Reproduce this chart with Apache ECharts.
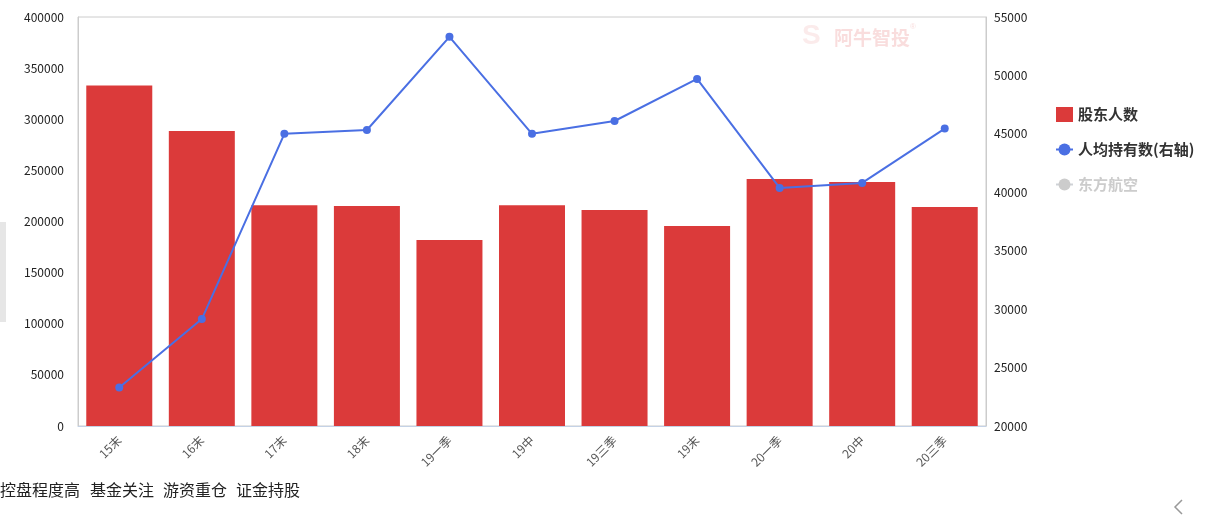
<!DOCTYPE html>
<html><head><meta charset="utf-8">
<script src="https://cdn.jsdelivr.net/npm/echarts@6/dist/echarts.min.js"></script>
<style>html,body{margin:0;padding:0;background:#fff;}#c{width:1215px;height:523px;}</style>
</head><body><div id="c"></div>
<script>
const categories = ['15末','16末','17末','18末','19一季','19中','19三季','19末','20一季','20中','20三季'];
const holders = [333000, 288500, 216000, 215200, 181900, 216000, 211200, 195600, 241600, 238600, 214200];
const perCapita = [23300, 29150, 45000, 45330, 53300, 45000, 46100, 49700, 40370, 40800, 45450];
const leftTicks = {min: 0, max: 400000, interval: 50000};
const rightTicks = {min: 20000, max: 55000, interval: 5000};
const tags = ['控盘程度高', '基金关注', '游资重仓', '证金持股'];

const chart = echarts.init(document.getElementById('c'));
const font = '"Noto Sans CJK SC", "Noto Sans", sans-serif';
const tagX = [0, 90, 163, 236];
chart.setOption({
  animation: false,
  textStyle: {fontFamily: font},
  grid: {left: 78, right: 229, top: 17, bottom: 97, show: true, borderColor: '#ccc', borderWidth: 1},
  legend: {
    orient: 'vertical', left: 1055, top: 107, itemGap: 20, itemWidth: 17, itemHeight: 15, itemTextGap: 3, padding: 0,
    textStyle: {fontSize: 15, fontWeight: 'bold', color: '#333', fontFamily: font},
    inactiveColor: '#ccc',
    data: [{name: '股东人数', icon: 'rect'}, {name: '人均持有数(右轴)'}, {name: '东方航空'}],
    selected: {'东方航空': false}
  },
  xAxis: {
    type: 'category', data: categories,
    axisLine: {lineStyle: {color: '#c4d2e6'}},
    axisTick: {show: false},
    axisLabel: {rotate: 45, color: '#555', fontSize: 12, margin: 12}
  },
  yAxis: [
    {type: 'value', min: leftTicks.min, max: leftTicks.max, interval: leftTicks.interval,
     axisLine: {show: true, lineStyle: {color: '#ccc'}}, axisTick: {show: false}, splitLine: {show: false},
     axisLabel: {color: '#222', fontSize: 12, margin: 14, formatter: v => String(v)}},
    {type: 'value', min: rightTicks.min, max: rightTicks.max, interval: rightTicks.interval,
     axisLine: {show: true, lineStyle: {color: '#ccc'}}, axisTick: {show: false}, splitLine: {show: false},
     axisLabel: {color: '#222', fontSize: 12, margin: 8, formatter: v => String(v)}}
  ],
  series: [
    {name: '股东人数', type: 'bar', data: holders, barWidth: 66, itemStyle: {color: '#db3a3a'}},
    {name: '人均持有数(右轴)', type: 'line', yAxisIndex: 1, data: perCapita, symbol: 'circle', symbolSize: 8,
     lineStyle: {color: '#4a6fe3', width: 2}, itemStyle: {color: '#4a6fe3'}},
    {name: '东方航空', type: 'line', yAxisIndex: 1, data: [], symbol: 'circle', itemStyle: {color: '#ccc'}}
  ],
  graphic: [
    {type: 'text', left: 834, top: 28, style: {text: '阿牛智投', fontSize: 19, fontWeight: 'bold', fill: 'rgba(230,120,120,0.25)', fontFamily: font}},
    {type: 'text', left: 910, top: 23, style: {text: '®', fontSize: 8, fill: 'rgba(230,120,120,0.25)'}},
    {type: 'text', left: 802, top: 22, style: {text: 'S', fontSize: 28, fontWeight: 'bold', fill: 'rgba(230,120,120,0.15)'}},
    {type: 'rect', left: 0, top: 222, shape: {width: 6, height: 100}, style: {fill: '#e6e6e6'}},
    ...tags.map((t, i) => ({type: 'text', left: tagX[i], top: 482, style: {text: t, fontSize: 16, fill: '#222', fontFamily: font}})),
    {type: 'polyline', shape: {points: [[1182, 500], [1175, 507], [1182, 514]]}, style: {stroke: '#999', lineWidth: 1.5, fill: null}}
  ]
});
</script></body></html>
